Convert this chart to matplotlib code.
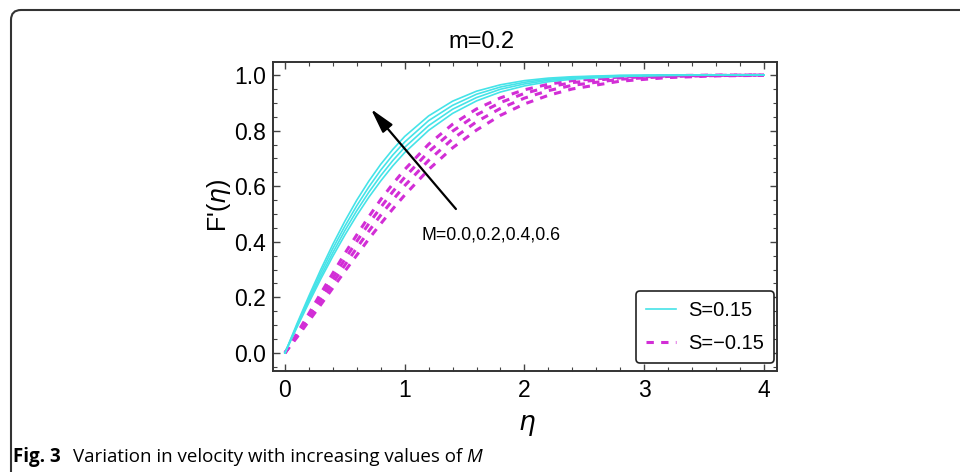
import matplotlib
matplotlib.use("Agg")
import matplotlib.pyplot as plt
from matplotlib.path import Path
from matplotlib.patches import PathPatch
from matplotlib.ticker import MultipleLocator

# eta grid and velocity profiles
eta = [0, 0.1, 0.2, 0.3, 0.4, 0.5, 0.6, 0.7, 0.8, 0.9, 1.0, 1.2, 1.4, 1.6, 1.8,
       2.0, 2.2, 2.4, 2.8, 3.2, 3.6, 4.0]

# S = 0.15, M = 0.0, 0.2, 0.4, 0.6
cyan_M00 = [0, 0.092, 0.181, 0.267, 0.348, 0.424, 0.495, 0.560, 0.619, 0.673, 0.721,
            0.801, 0.862, 0.907, 0.939, 0.961, 0.976, 0.985, 0.995, 0.999, 1.0, 1.0]
cyan_M02 = [0, 0.096, 0.189, 0.277, 0.361, 0.440, 0.512, 0.578, 0.638, 0.692, 0.740,
            0.818, 0.877, 0.919, 0.949, 0.968, 0.981, 0.989, 0.997, 0.999, 1.0, 1.0]
cyan_M04 = [0, 0.100, 0.197, 0.289, 0.376, 0.456, 0.530, 0.597, 0.658, 0.712, 0.759,
            0.836, 0.891, 0.931, 0.957, 0.974, 0.985, 0.992, 0.998, 1.0, 1.0, 1.0]
cyan_M06 = [0, 0.105, 0.205, 0.301, 0.391, 0.474, 0.550, 0.618, 0.679, 0.732, 0.779,
            0.853, 0.906, 0.942, 0.965, 0.980, 0.989, 0.994, 0.999, 1.0, 1.0, 1.0]

# S = -0.15, M = 0.0, 0.2, 0.4, 0.6
mag_M00 = [0, 0.056, 0.115, 0.174, 0.234, 0.294, 0.352, 0.410, 0.465, 0.518, 0.568,
           0.660, 0.738, 0.802, 0.855, 0.896, 0.927, 0.950, 0.978, 0.991, 0.997, 0.999]
mag_M02 = [0, 0.061, 0.124, 0.188, 0.252, 0.316, 0.378, 0.438, 0.496, 0.550, 0.602,
           0.693, 0.770, 0.832, 0.880, 0.917, 0.944, 0.963, 0.985, 0.995, 0.998, 1.0]
mag_M04 = [0, 0.066, 0.133, 0.201, 0.269, 0.337, 0.402, 0.465, 0.524, 0.580, 0.632,
           0.724, 0.798, 0.857, 0.901, 0.934, 0.957, 0.973, 0.990, 0.997, 0.999, 1.0]
mag_M06 = [0, 0.070, 0.142, 0.215, 0.287, 0.358, 0.425, 0.490, 0.552, 0.608, 0.660,
           0.751, 0.823, 0.878, 0.918, 0.947, 0.967, 0.980, 0.993, 0.998, 1.0, 1.0]

cyan_curves = [cyan_M00, cyan_M02, cyan_M04, cyan_M06]
mag_curves = [mag_M00, mag_M02, mag_M04, mag_M06]

CYAN = "#45E3E8"
MAGENTA = "#D22ED6"

plt.rcParams["font.family"] = "Liberation Sans"

fig = plt.figure(figsize=(9.6, 4.76), dpi=100)
ax = fig.add_axes([273 / 960, 1 - 371 / 476, 504 / 960, 309 / 476])

for i, F in enumerate(cyan_curves):
    ax.plot(eta, F, color=CYAN, lw=1.2, label="S=0.15" if i == 0 else None, zorder=3)
for i, F in enumerate(mag_curves):
    ax.plot(eta, F, color=MAGENTA, lw=2.2, linestyle=(0, (2.4, 2.4)),
            label="S=\u22120.15" if i == 0 else None, zorder=2)

ax.set_xlim(-0.1, 4.11)
ax.set_ylim(-0.065, 1.047)
ax.xaxis.set_major_locator(MultipleLocator(1))
ax.xaxis.set_minor_locator(MultipleLocator(0.2))
ax.yaxis.set_minor_locator(MultipleLocator(0.05))
ax.set_yticks([0, 0.2, 0.4, 0.6, 0.8, 1.0])
ax.set_yticklabels(["0.0", "0.2", "0.4", "0.6", "0.8", "1.0"])
ax.tick_params(which="both", direction="in", top=True, right=True, colors="#444444",
               labelcolor="black", labelsize=16.5)
ax.tick_params(which="major", length=5, width=1.0)
ax.tick_params(which="minor", length=3, width=0.8)
ax.tick_params(axis="x", pad=6)
ax.tick_params(axis="y", pad=5)
for sp in ax.spines.values():
    sp.set_color("#333333")
    sp.set_linewidth(1.4)

# arrow for increasing M
ax.annotate("", xy=(0.718, 0.878), xytext=(1.428, 0.518),
            arrowprops=dict(arrowstyle="-|>,head_length=1.0,head_width=0.26", color="black",
                            lw=1.6, mutation_scale=15, shrinkA=0, shrinkB=0))
ax.text(1.72, 0.424, "M=0.0,0.2,0.4,0.6", fontsize=12.8, ha="center", va="center")

leg = ax.legend(loc="lower right", bbox_to_anchor=(0.994, 0.026), fontsize=14.5,
                frameon=True, fancybox=True, handlelength=1.5, handletextpad=0.6,
                labelspacing=0.7, borderpad=0.5, borderaxespad=0)
leg.get_frame().set_edgecolor("#222222")
leg.get_frame().set_linewidth(1.2)
leg.get_frame().set_alpha(1)

fig.text(482 / 960, 1 - 42 / 476, "m=0.2", fontsize=17, ha="center", va="center")
fig.text(219 / 960, 1 - 205 / 476, "F'($\\eta$)", fontsize=18, ha="center",
         va="center", rotation=90)
fig.text(527 / 960, 1 - 426 / 476, "$\\eta$", fontsize=19, ha="center", va="center")

# caption, pieces laid out one after another
fig.canvas.draw()
renderer = fig.canvas.get_renderer()
cy = 1 - 457 / 476
t1 = fig.text(13 / 960, cy, "Fig. 3", fontsize=13.5, fontweight="bold",
              family="Open Sans", ha="left", va="center")
x1 = t1.get_window_extent(renderer).x1
t2 = fig.text((x1 + 12) / 960, cy, "Variation in velocity with increasing values of",
              fontsize=13.5, family="Open Sans", ha="left", va="center")
x2 = t2.get_window_extent(renderer).x1
fig.text((x2 + 4) / 960, cy, "M", fontsize=13.5, family="Open Sans", style="italic",
         ha="left", va="center")

# border with rounded top-left corner
x0, y0, r = 11, 10, 10
verts = [(x0, 472), (x0, y0 + r), (x0, y0), (x0 + r, y0), (960, y0)]
codes = [Path.MOVETO, Path.LINETO, Path.CURVE3, Path.CURVE3, Path.LINETO]
verts = [(vx / 960, 1 - vy / 476) for vx, vy in verts]
fig.patches.append(PathPatch(Path(verts, codes), transform=fig.transFigure,
                             fill=False, edgecolor="#333333", lw=1.5))

fig.savefig("out.png", dpi=100)
